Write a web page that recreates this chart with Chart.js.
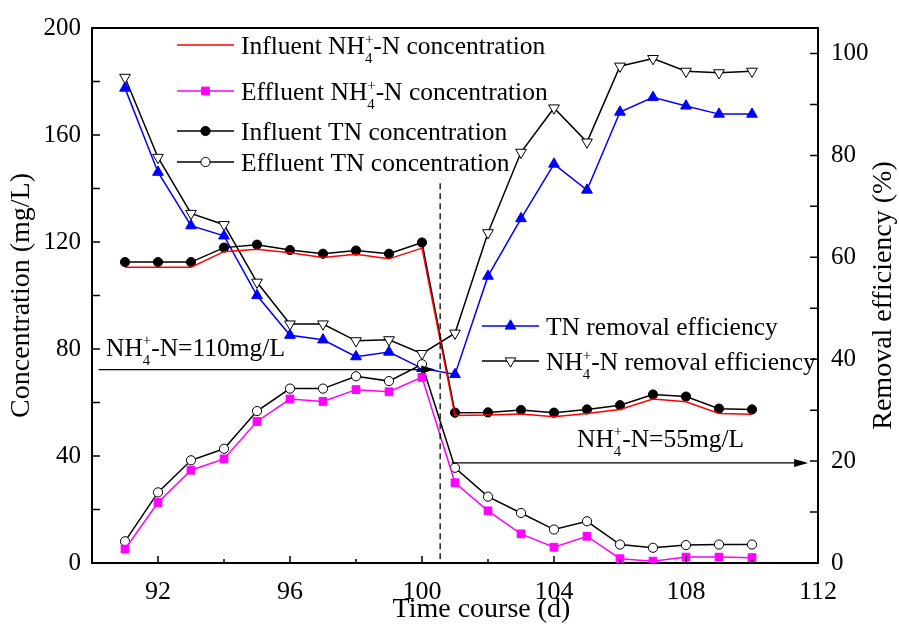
<!DOCTYPE html>
<html>
<head>
<meta charset="utf-8">
<script src="https://cdn.jsdelivr.net/npm/chart.js@4.4.0/dist/chart.umd.min.js"></script>
<style>
  html, body { margin: 0; padding: 0; background: #fff; }
  canvas { display: block; }
</style>
</head>
<body>
<canvas id="c" width="899" height="624"></canvas>
<script>
// --- data ---
const days = [91, 92, 93, 94, 95, 96, 97, 98, 99, 100, 101, 102, 103, 104, 105, 106, 107, 108, 109, 110];
const influentNH4 = [110.6, 110.6, 110.6, 116.4, 117.3, 116, 114.2, 115.4, 113.7, 117.7, 55.1, 55.3, 55.7, 54.7, 55.9, 57.4, 61.3, 60.3, 55.9, 55.6];
const effluentNH4 = [5.2, 22.6, 34.7, 38.9, 52.9, 61.3, 60.4, 64.8, 64, 69.4, 30, 19.5, 10.9, 5.9, 10, 1.6, 0.7, 2.2, 2.2, 2];
const influentTN = [112.5, 112.5, 112.5, 117.9, 119, 117, 115.6, 116.8, 115.6, 119.8, 56.2, 56.3, 57.2, 56.2, 57.4, 59, 63, 62.2, 57.7, 57.4];
const effluentTN = [8.1, 26.4, 38.4, 42.7, 56.8, 65.2, 65.2, 69.8, 68, 74.3, 35.6, 24.8, 18.7, 12.5, 15.6, 6.9, 5.7, 6.7, 6.9, 6.9];
const tnRemoval = [93.2, 76.7, 66.2, 64.2, 52.5, 44.7, 43.8, 40.5, 41.4, 38.2, 37, 56.3, 67.6, 78.3, 73.2, 88.5, 91.4, 89.7, 88.1, 88.1];
const nh4Removal = [95.3, 79.6, 68.6, 66.4, 55.1, 46.9, 46.9, 43.6, 43.8, 41.1, 45.1, 64.8, 80.6, 89.3, 82.6, 97.5, 99, 96.5, 96.2, 96.5];

const xTicks = [92, 96, 100, 104, 108, 112];
const xMinor = [94, 98, 102, 106, 110];
const yTicks = [0, 40, 80, 120, 160, 200];
const yMinor = [20, 60, 100, 140, 180];
const y1Ticks = [0, 20, 40, 60, 80, 100];
const y1Minor = [10, 30, 50, 70, 90];

// annotations (data units)
const phaseSplit = 100.55;          // dashed line day
const phaseSplitTop = 142;          // mg/L
const arrow110 = { from: 90.2, to: 100.4, y: 72.3 };
const arrow55 = { from: 100.9, to: 111.7, y: 37.4 };

const FONT = '"Liberation Serif", "Times New Roman", serif';
const TXT = 25.5;

const pts = vals => days.map((d, i) => ({ x: d, y: vals[i] }));

const datasets = [
    {
        label: 'Influent NH4+-N concentration',
        data: pts(influentNH4), yAxisID: 'y',
        borderColor: '#ff0000', borderWidth: 1.5, pointRadius: 0
    },
    {
        label: 'Effluent NH4+-N concentration',
        data: pts(effluentNH4), yAxisID: 'y',
        borderColor: '#ff00ff', borderWidth: 1.5,
        pointStyle: 'rect', pointRadius: 5.5,
        pointBackgroundColor: '#ff00ff', pointBorderColor: '#ff00ff', pointBorderWidth: 1
    },
    {
        label: 'Influent TN concentration',
        data: pts(influentTN), yAxisID: 'y',
        borderColor: '#000', borderWidth: 1.5,
        pointStyle: 'circle', pointRadius: 4.6,
        pointBackgroundColor: '#000', pointBorderColor: '#000', pointBorderWidth: 1
    },
    {
        label: 'Effluent TN concentration',
        data: pts(effluentTN), yAxisID: 'y',
        borderColor: '#000', borderWidth: 1.5,
        pointStyle: 'circle', pointRadius: 4.6,
        pointBackgroundColor: '#fff', pointBorderColor: '#000', pointBorderWidth: 1
    },
    {
        label: 'TN removal efficiency',
        data: pts(tnRemoval), yAxisID: 'y1',
        borderColor: '#0000ff', borderWidth: 1.5,
        pointStyle: 'triangle', pointRadius: 6.2,
        pointBackgroundColor: '#0000ff', pointBorderColor: '#0000ff', pointBorderWidth: 1
    },
    {
        label: 'NH4+-N removal efficiency',
        data: pts(nh4Removal), yAxisID: 'y1',
        borderColor: '#000', borderWidth: 1.5,
        pointStyle: 'triangle', pointRotation: 180, pointRadius: 6.2,
        pointBackgroundColor: '#fff', pointBorderColor: '#000', pointBorderWidth: 1
    }
];

// text with the NH4+ stacked sub/superscript
function richText(ctx, x, y, parts, size) {
    ctx.textAlign = 'left';
    ctx.textBaseline = 'alphabetic';
    ctx.fillStyle = '#000';
    for (const p of parts) {
        if (typeof p === 'string') {
            ctx.font = size + 'px ' + FONT;
            ctx.fillText(p, x, y);
            x += ctx.measureText(p).width;
        } else {
            const s = size * 0.58;
            ctx.font = s + 'px ' + FONT;
            ctx.fillText(p.sup, x, y - size * 0.42);
            ctx.fillText(p.sub, x, y + size * 0.35);
            x += Math.max(ctx.measureText(p.sup).width, ctx.measureText(p.sub).width);
        }
    }
}
const NH4 = ['NH', { sub: '4', sup: '+' }];

function arrow(ctx, x1, x2, y) {
    ctx.beginPath();
    ctx.moveTo(x1, y);
    ctx.lineTo(x2 - 10, y);
    ctx.stroke();
    ctx.beginPath();
    ctx.moveTo(x2, y);
    ctx.lineTo(x2 - 14, y - 4);
    ctx.lineTo(x2 - 14, y + 4);
    ctx.closePath();
    ctx.fill();
}

const decor = {
    id: 'decor',
    beforeDraw(chart) {
        const ctx = chart.ctx;
        ctx.save();
        ctx.fillStyle = '#fff';
        ctx.fillRect(0, 0, chart.width, chart.height);
        ctx.restore();
    },
    afterDraw(chart) {
        const ctx = chart.ctx;
        const { x, y, y1 } = chart.scales;
        const a = chart.chartArea;
        ctx.save();
        ctx.strokeStyle = '#000';
        ctx.fillStyle = '#000';

        // top frame
        ctx.lineWidth = 2;
        ctx.beginPath();
        ctx.moveTo(a.left, a.top);
        ctx.lineTo(a.right, a.top);
        ctx.stroke();

        // inward ticks
        ctx.lineWidth = 1.5;
        ctx.beginPath();
        xTicks.forEach(v => { const px = x.getPixelForValue(v); ctx.moveTo(px, a.bottom); ctx.lineTo(px, a.bottom - 7); });
        xMinor.forEach(v => { const px = x.getPixelForValue(v); ctx.moveTo(px, a.bottom); ctx.lineTo(px, a.bottom - 4); });
        yTicks.concat(yMinor).forEach(v => { const py = y.getPixelForValue(v); ctx.moveTo(a.left, py); ctx.lineTo(a.left + 8, py); });
        y1Ticks.concat(y1Minor).forEach(v => { const py = y1.getPixelForValue(v); ctx.moveTo(a.right, py); ctx.lineTo(a.right - 8, py); });
        ctx.stroke();

        // phase split dashed line
        ctx.lineWidth = 1.3;
        ctx.setLineDash([6, 4]);
        ctx.beginPath();
        ctx.moveTo(x.getPixelForValue(phaseSplit), y.getPixelForValue(phaseSplitTop));
        ctx.lineTo(x.getPixelForValue(phaseSplit), a.bottom);
        ctx.stroke();
        ctx.setLineDash([]);

        // arrows + labels
        ctx.lineWidth = 1.3;
        arrow(ctx, x.getPixelForValue(arrow110.from), x.getPixelForValue(arrow110.to), y.getPixelForValue(arrow110.y));
        arrow(ctx, x.getPixelForValue(arrow55.from), x.getPixelForValue(arrow55.to), y.getPixelForValue(arrow55.y));
        richText(ctx, 106, 356, NH4.concat(['-N=110mg/L']), TXT);
        richText(ctx, 577, 447, NH4.concat(['-N=55mg/L']), TXT);

        // legends
        const legendRows = [
            { ds: 0, lx: 177, ly: 45, text: ['Influent '].concat(NH4, ['-N concentration']) },
            { ds: 1, lx: 177, ly: 91, text: ['Effluent '].concat(NH4, ['-N concentration']) },
            { ds: 2, lx: 177, ly: 131, text: ['Influent TN concentration'] },
            { ds: 3, lx: 177, ly: 162, text: ['Effluent TN concentration'] },
            { ds: 4, lx: 482, ly: 326, text: ['TN removal efficiency'] },
            { ds: 5, lx: 482, ly: 361, text: NH4.concat(['-N removal efficiency']) }
        ];
        legendRows.forEach(r => {
            const d = datasets[r.ds];
            ctx.strokeStyle = d.borderColor;
            ctx.lineWidth = d.borderWidth;
            ctx.beginPath();
            ctx.moveTo(r.lx, r.ly);
            ctx.lineTo(r.lx + 57, r.ly);
            ctx.stroke();
            if (d.pointRadius > 0) {
                ctx.fillStyle = d.pointBackgroundColor;
                ctx.strokeStyle = d.pointBorderColor;
                ctx.lineWidth = d.pointBorderWidth;
                Chart.helpers.drawPoint(ctx, {
                    pointStyle: d.pointStyle, rotation: d.pointRotation || 0,
                    radius: d.pointRadius, borderWidth: d.pointBorderWidth
                }, r.lx + 28.5, r.ly);
            }
            richText(ctx, r.lx + 64, r.ly + 9.3, r.text, TXT);
        });

        // axis titles not placed where Chart.js would put them
        ctx.fillStyle = '#000';
        ctx.font = '28px ' + FONT;
        ctx.textAlign = 'center';
        ctx.textBaseline = 'alphabetic';
        ctx.fillText('Time course (d)', 481.5, 617);

        ctx.textBaseline = 'middle';
        ctx.translate(884, (a.top + a.bottom) / 2);
        ctx.rotate(-Math.PI / 2);
        ctx.fillText('Removal efficiency (%)', 0, 0);
        ctx.restore();
    }
};

new Chart(document.getElementById('c'), {
    type: 'line',
    data: { datasets: datasets },
    options: {
        responsive: false,
        animation: false,
        devicePixelRatio: 1,
        layout: { padding: { top: 23, left: 0, right: 0, bottom: 0 } },
        plugins: { legend: { display: false }, tooltip: { enabled: false } },
        scales: {
            x: {
                type: 'linear', min: 90, max: 112,
                afterBuildTicks: s => { s.ticks = xTicks.map(v => ({ value: v })); },
                afterFit: s => { s.height = 61; },
                grid: { display: false, drawTicks: false },
                border: { display: true, color: '#000', width: 2 },
                ticks: { padding: 14, color: '#000', font: { family: FONT, size: 26 } }
            },
            y: {
                position: 'left', min: 0, max: 200,
                afterBuildTicks: s => { s.ticks = yTicks.map(v => ({ value: v })); },
                afterFit: s => { s.width = 92; },
                grid: { display: false, drawTicks: false },
                border: { display: true, color: '#000', width: 2 },
                ticks: { padding: 11, color: '#000', font: { family: FONT, size: 25 } },
                title: {
                    display: true, text: 'Concentration (mg/L)', color: '#000',
                    font: { family: FONT, size: 28 }, padding: { top: 5, bottom: 0 }
                }
            },
            y1: {
                position: 'right', min: 0, max: 105,
                afterBuildTicks: s => { s.ticks = y1Ticks.map(v => ({ value: v })); },
                afterFit: s => { s.width = 81; },
                grid: { display: false, drawTicks: false },
                border: { display: true, color: '#000', width: 2 },
                ticks: { padding: 13, color: '#000', font: { family: FONT, size: 25 } }
            }
        }
    },
    plugins: [decor]
});
</script>
</body>
</html>
